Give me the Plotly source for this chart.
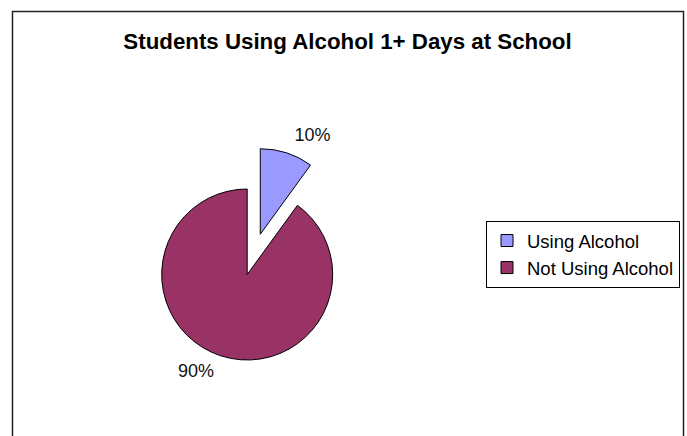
import plotly.graph_objects as go

# Share of students using alcohol on 1+ days at school
labels = ["Using Alcohol", "Not Using Alcohol"]
values = [10, 90]
colors = ["#9999FF", "#993366"]
pull = [0.495, 0]

FONT = "Liberation Sans, Arial, sans-serif"
W, H = 687, 436


def px(x):
    return x / W


def py(y):
    return 1 - y / H


def pie_domain(cx, cy, r):
    # domain box that gives a disc of radius r centred at (cx, cy)
    half = r * (1 + max(pull))
    return {
        "x": [px(cx - half), px(cx + half)],
        "y": [py(cy + half), py(cy - half)],
    }


cx, cy, r = 247.2, 274.5, 85.5

fig = go.Figure()

fig.add_trace(
    go.Pie(
        labels=labels,
        values=values,
        pull=pull,
        sort=False,
        direction="clockwise",
        rotation=0,
        marker={"colors": colors, "line": {"color": "black", "width": 1}},
        textinfo="none",
        domain=pie_domain(cx, cy, r),
        hoverinfo="label+percent",
    )
)

# same pie, slightly larger and invisible, only to carry the outside
# percent labels a bit further out (as Excel does)
fig.add_trace(
    go.Pie(
        labels=labels,
        values=values,
        pull=pull,
        sort=False,
        direction="clockwise",
        rotation=0,
        marker={"colors": ["rgba(0,0,0,0)"] * len(values), "line": {"width": 0}},
        texttemplate="%{percent:.0%}",
        textposition="outside",
        textfont={"family": FONT, "size": 18, "color": "#111111"},
        domain=pie_domain(cx, cy, r + 6),
        hoverinfo="skip",
        showlegend=False,
    )
)

# chart frame (Excel style, cut at the bottom)
fig.add_shape(
    type="rect",
    xref="paper",
    yref="paper",
    x0=px(12.5),
    x1=px(683.5),
    y0=-0.1,
    y1=py(11.5),
    line={"color": "#222222", "width": 1.5},
)

fig.update_layout(
    width=W,
    height=H,
    margin={"l": 0, "r": 0, "t": 0, "b": 0, "autoexpand": False},
    paper_bgcolor="white",
    plot_bgcolor="white",
    font={"family": FONT, "color": "black"},
    title={
        "text": "<b>Students Using Alcohol 1+ Days at School</b>",
        "x": px(347.5),
        "xanchor": "center",
        "y": py(41),
        "yref": "container",
        "yanchor": "middle",
        "font": {"family": FONT, "size": 22.3, "color": "black"},
    },
    showlegend=True,
    legend={
        "x": px(486),
        "xanchor": "left",
        "y": py(221),
        "yanchor": "top",
        "bordercolor": "black",
        "borderwidth": 1,
        "bgcolor": "white",
        "font": {"family": FONT, "size": 18.5, "color": "black"},
    },
)

fig.write_html(
    "out.html",
    config={"displayModeBar": False},
    post_script="document.body.style.margin = '0';",
)
